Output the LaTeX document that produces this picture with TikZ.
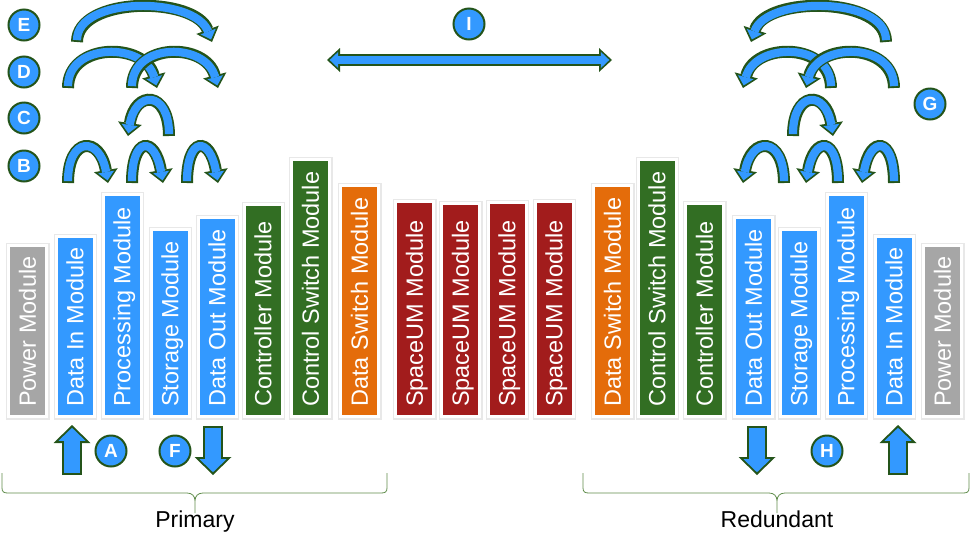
\documentclass[tikz,border=0pt]{standalone}
\usepackage{fontspec}
\setmainfont{Liberation Sans}
\usetikzlibrary{arrows.meta}

\definecolor{modblue}{RGB}{51,153,255}
\definecolor{modgreen}{RGB}{50,110,35}
\definecolor{modorange}{RGB}{228,108,10}
\definecolor{modred}{RGB}{162,28,28}
\definecolor{modgray}{RGB}{166,166,166}
\definecolor{arrowline}{RGB}{36,84,26}
\definecolor{bracegreen}{RGB}{95,140,75}

\tikzset{
  bar/.style={fill=#1, draw=white, line width=3pt, minimum width=38pt, outer sep=0pt, inner sep=0pt, anchor=south,
    preaction={draw=black!9, line width=5.5pt, transform canvas={xshift=0.4pt, yshift=-0.6pt}}},
  modtext/.style={rotate=90, anchor=west, inner sep=0pt, text=white, font=\fontsize{23.5}{24}\selectfont,
    text height=16.8pt, text depth=0pt},
  tag/.style={circle, fill=modblue, draw=arrowline, line width=2pt, minimum size=31pt, inner sep=0pt,
    text=white, font=\bfseries\fontsize{19}{19}\selectfont, text height=13.6pt, text depth=0pt},
  hoop/.style={draw=modblue, line width=8.2pt, shorten <=1.9pt, shorten >=2.7pt,
    -{Triangle[length=8.4pt,width=16pt,line width=0pt]},
    preaction={draw=arrowline, line width=12pt, shorten <=0pt, shorten >=0pt,
      -{Triangle[length=13pt,width=24pt,line width=0pt]}}},
  block/.style={draw=modblue, line width=16pt, shorten <=2pt, shorten >=2.8pt,
    -{Triangle[length=13pt,width=27pt,line width=0pt]},
    preaction={draw=arrowline, line width=20pt, shorten <=0pt, shorten >=0pt,
      -{Triangle[length=18pt,width=37pt,line width=0pt]}}},
  twoway/.style={draw=modblue, line width=8.2pt, shorten <=2.7pt, shorten >=2.7pt,
    {Triangle[length=8.4pt,width=16pt,line width=0pt]}-{Triangle[length=8.4pt,width=16pt,line width=0pt]},
    preaction={draw=arrowline, line width=12pt, shorten <=0pt, shorten >=0pt,
      {Triangle[length=13pt,width=24pt,line width=0pt]}-{Triangle[length=13pt,width=24pt,line width=0pt]}}},
  brace/.style={draw=bracegreen, line width=0.8pt},
  sidetext/.style={anchor=base, inner sep=0pt, font=\fontsize{23}{24}\selectfont}
}

\begin{document}
\begin{tikzpicture}[x=1pt, y=1pt]
        \useasboundingbox (0,0) rectangle (975,-547);
        % primary side
        \node[bar=modgray, minimum height=171pt] (pwr1) at (27.5,-416.5) {};
        \node[modtext] (pwr1t) at ([yshift=9.5pt]pwr1.south) {Power Module};
        \node[bar=modblue, minimum height=180pt] (din1) at (75,-416.5) {};
        \node[modtext] (din1t) at ([yshift=9.5pt]din1.south) {Data In Module};
        \node[bar=modblue, minimum height=222pt] (proc1) at (122,-416.5) {};
        \node[modtext] (proc1t) at ([yshift=9.5pt]proc1.south) {Processing Module};
        \node[bar=modblue, minimum height=187pt] (stor1) at (170,-416.5) {};
        \node[modtext] (stor1t) at ([yshift=9.5pt]stor1.south) {Storage Module};
        \node[bar=modblue, minimum height=199pt] (dout1) at (217,-416.5) {};
        \node[modtext] (dout1t) at ([yshift=9.5pt]dout1.south) {Data Out Module};
        \node[bar=modgreen, minimum height=212pt] (ctrl1) at (263,-416.5) {};
        \node[modtext] (ctrl1t) at ([yshift=9.5pt]ctrl1.south) {Controller Module};
        \node[bar=modgreen, minimum height=257pt] (csw1) at (310.5,-416.5) {};
        \node[modtext] (csw1t) at ([yshift=9.5pt]csw1.south) {Control Switch Module};
        \node[bar=modorange, minimum height=231pt] (dsw1) at (359.5,-416.5) {};
        \node[modtext] (dsw1t) at ([yshift=9.5pt]dsw1.south) {Data Switch Module};
        % spaceum modules
        \node[bar=modred, minimum height=215pt] (sum1) at (414.5,-416.5) {};
        \node[modtext] (sum1t) at ([yshift=9.5pt]sum1.south) {SpaceUM Module};
        \node[bar=modred, minimum height=213pt] (sum2) at (460.5,-416.5) {};
        \node[modtext] (sum2t) at ([yshift=9.5pt]sum2.south) {SpaceUM Module};
        \node[bar=modred, minimum height=214pt] (sum3) at (507,-416.5) {};
        \node[modtext] (sum3t) at ([yshift=9.5pt]sum3.south) {SpaceUM Module};
        \node[bar=modred, minimum height=215pt] (sum4) at (554,-416.5) {};
        \node[modtext] (sum4t) at ([yshift=9.5pt]sum4.south) {SpaceUM Module};
        % redundant side
        \node[bar=modorange, minimum height=231pt] (dsw2) at (612.5,-416.5) {};
        \node[modtext] (dsw2t) at ([yshift=9.5pt]dsw2.south) {Data Switch Module};
        \node[bar=modgreen, minimum height=257pt] (csw2) at (657,-416.5) {};
        \node[modtext] (csw2t) at ([yshift=9.5pt]csw2.south) {Control Switch Module};
        \node[bar=modgreen, minimum height=213pt] (ctrl2) at (704.5,-416.5) {};
        \node[modtext] (ctrl2t) at ([yshift=9.5pt]ctrl2.south) {Controller Module};
        \node[bar=modblue, minimum height=199pt] (dout2) at (753.5,-416.5) {};
        \node[modtext] (dout2t) at ([yshift=9.5pt]dout2.south) {Data Out Module};
        \node[bar=modblue, minimum height=187pt] (stor2) at (799,-416.5) {};
        \node[modtext] (stor2t) at ([yshift=9.5pt]stor2.south) {Storage Module};
        \node[bar=modblue, minimum height=222pt] (proc2) at (846,-416.5) {};
        \node[modtext] (proc2t) at ([yshift=9.5pt]proc2.south) {Processing Module};
        \node[bar=modblue, minimum height=180pt] (din2) at (894,-416.5) {};
        \node[modtext] (din2t) at ([yshift=9.5pt]din2.south) {Data In Module};
        \node[bar=modgray, minimum height=171pt] (pwr2) at (942.5,-416.5) {};
        \node[modtext] (pwr2t) at ([yshift=9.5pt]pwr2.south) {Power Module};
        % step tags
        \node[tag] (tagE) at (24,-25) {E};
        \node[tag] (tagD) at (24,-72) {D};
        \node[tag] (tagC) at (24,-118) {C};
        \node[tag] (tagB) at (24,-166) {B};
        \node[tag] (tagA) at (111,-451) {A};
        \node[tag] (tagF) at (175,-451) {F};
        \node[tag] (tagI) at (469,-24) {I};
        \node[tag] (tagG) at (930,-104) {G};
        \node[tag] (tagH) at (827,-451) {H};
        % curved transfers, primary
        \draw[hoop] (77,-42) .. controls (77,4) and (195,4) .. (212,-42);
        \draw[hoop] (68,-88) .. controls (68,-42) and (145,-42) .. (157,-88);
        \draw[hoop] (132,-88) .. controls (132,-42) and (206,-42) .. (218,-88);
        \draw[hoop] (169,-136) .. controls (169,-90) and (135,-90) .. (128,-136);
        \draw[hoop] (68,-183) .. controls (68,-136) and (100,-136) .. (108,-183);
        \draw[hoop] (132,-183) .. controls (132,-136) and (155,-136) .. (163,-183);
        \draw[hoop] (187,-183) .. controls (187,-136) and (210,-136) .. (218,-183);
        % curved transfers, redundant
        \draw[hoop] (886,-42) .. controls (886,4) and (766,4) .. (751,-42);
        \draw[hoop] (831,-88) .. controls (831,-42) and (755,-42) .. (743,-88);
        \draw[hoop] (894,-88) .. controls (894,-42) and (818,-42) .. (806,-88);
        \draw[hoop] (793,-136) .. controls (793,-90) and (826,-90) .. (833,-136);
        \draw[hoop] (784,-183) .. controls (784,-136) and (751,-136) .. (743,-183);
        \draw[hoop] (838,-183) .. controls (838,-136) and (814,-136) .. (806,-183);
        \draw[hoop] (894,-183) .. controls (894,-136) and (870,-136) .. (862,-183);
        % link between the sides
        \draw[twoway] (327,-60) -- (612,-60);
        % data in and out
        \draw[block] (72,-475) -- (72,-425);
        \draw[block] (213,-426) -- (213,-475);
        \draw[block] (757,-426) -- (757,-475);
        \draw[block] (898,-475) -- (898,-425);
        % braces
        \draw[brace] (2,-473) -- (2,-488) .. controls (2,-492) and (4,-493) .. (8,-493) -- (187,-493)
          .. controls (192,-493) and (195,-496) .. (195,-501) -- (195,-513) -- (195,-501)
          .. controls (195,-496) and (198,-493) .. (203,-493) -- (381,-493)
          .. controls (385,-493) and (387,-492) .. (387,-488) -- (387,-473);
        \draw[brace] (583,-473) -- (583,-488) .. controls (583,-492) and (585,-493) .. (589,-493) -- (769,-493)
          .. controls (774,-493) and (777,-496) .. (777,-501) -- (777,-513) -- (777,-501)
          .. controls (777,-496) and (780,-493) .. (785,-493) -- (963,-493)
          .. controls (967,-493) and (969,-492) .. (969,-488) -- (969,-473);
        \node[sidetext] (primary) at (195,-527) {Primary};
        \node[sidetext] (redundant) at (777,-527) {Redundant};
\end{tikzpicture}
\end{document}
